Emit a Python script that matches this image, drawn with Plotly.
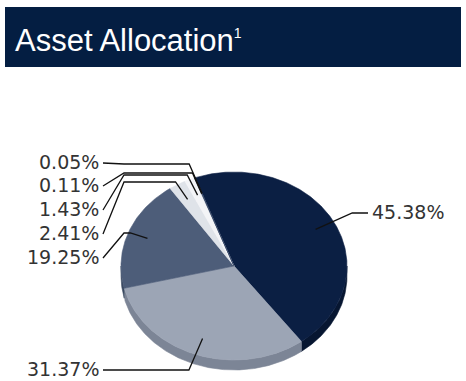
import numpy as np
import plotly.graph_objects as go

# Portfolio asset allocation (percent of total)
values = [45.38, 31.37, 19.25, 2.41, 1.43, 0.11, 0.05]
label_text = [f"{v:.2f}%" for v in values]

# Slice styling: top face and darker side wall
top_colors = ["#0b1f43", "#9ca5b5", "#4d5d79", "#dfe3e9", "#f3f4f7", "#6f7d95", "#2a3b5c"]
side_colors = ["#071631", "#7c8596", "#3a4962", "#b9bfc9", "#c9ced6", "#56637a", "#1d2c48"]

# Label layout: which side, text y, and the y where the leader bends
label_side = ["right", "bottom", "left", "left", "left", "left", "left"]
label_y = [212, 369, 257, 233, 209, 185, 162]
bend_y = [213, 370, 233, 182, 175, 173, 164]

# Tilted pie geometry (pixel space)
CX, CY = 234, 266
RX, RY = 113, 94
DEPTH = 10
START = -20.0
ANCHOR_F = 0.82


def pt(theta, f=1.0):
    t = np.radians(theta)
    return CX + RX * f * np.sin(t), CY - RY * f * np.cos(t)


def arc(a0, a1, n=None):
    n = n or max(4, int(abs(a1 - a0) * 2))
    th = np.linspace(a0, a1, n)
    x, y = pt(th)
    return list(x), list(y)


total = sum(values)
cum = np.concatenate([[0], np.cumsum(values)])
bounds = [(START + 360 * cum[i] / total, START + 360 * cum[i + 1] / total) for i in range(len(values))]

fig = go.Figure()

# Side walls on the front half of the pie
for (a0, a1), col in zip(bounds, side_colors):
    for lo, hi in [(90, 270), (450, 630)]:
        b0, b1 = max(a0, lo), min(a1, hi)
        if b1 > b0:
            xs, ys = arc(b0, b1)
            px = xs + xs[::-1]
            py = ys + [v + DEPTH for v in ys[::-1]]
            fig.add_trace(go.Scatter(x=px + [px[0]], y=py + [py[0]], mode="lines", fill="toself",
                                     fillcolor=col, line=dict(color=col, width=0.6), hoverinfo="skip"))

# Top faces
for (a0, a1), col in zip(bounds, top_colors):
    xs, ys = arc(a0, a1)
    fig.add_trace(go.Scatter(x=[CX] + xs + [CX], y=[CY] + ys + [CY], mode="lines", fill="toself",
                             fillcolor=col, line=dict(color=col, width=0.6), hoverinfo="skip"))

annotations = []
LEFT_EDGE = 103
LEFT_ELBOW = 124
RIGHT_EDGE = 368
for i, ((a0, a1), txt) in enumerate(zip(bounds, label_text)):
    mid = (a0 + a1) / 2
    ax, ay = pt(mid, ANCHOR_F)
    # point on the slice's ray at the bend height
    _, ry1 = pt(mid, 1.0)
    f = (CY - bend_y[i]) / (CY - ry1) if (CY - ry1) != 0 else 1.0
    kx, ky = pt(mid, f)
    side = label_side[i]
    if side == "right":
        lx = [ax, kx, RIGHT_EDGE]
        ly = [ay, ky, bend_y[i]]
        annotations.append(dict(x=RIGHT_EDGE + 2, y=label_y[i], text=txt, xanchor="left"))
    elif side == "bottom":
        lx = [ax, kx, LEFT_EDGE]
        ly = [ay, ky, bend_y[i]]
        annotations.append(dict(x=LEFT_EDGE - 2, y=label_y[i], text=txt, xanchor="right"))
    else:
        lx = [ax, kx, LEFT_ELBOW, LEFT_EDGE]
        ly = [ay, ky, bend_y[i], label_y[i] + 1]
        annotations.append(dict(x=LEFT_EDGE - 2, y=label_y[i], text=txt, xanchor="right"))
    fig.add_trace(go.Scatter(x=lx, y=ly, mode="lines", line=dict(color="#111111", width=1.3),
                             hoverinfo="skip"))

for a in annotations:
    a.update(showarrow=False, yanchor="middle", xref="x", yref="y",
             font=dict(family="DejaVu Sans", size=19, color="#333333"))

# Header band with title
annotations.append(dict(x=13, y=40, xref="x", yref="y",
                        text="Asset Allocation<sup><span style='font-size:14px'>1</span></sup>",
                        showarrow=False, xanchor="left", yanchor="middle",
                        font=dict(family="Liberation Sans, Arial", size=31, color="white")))

fig.update_layout(
    width=466, height=381,
    margin=dict(l=0, r=0, t=0, b=0),
    paper_bgcolor="white", plot_bgcolor="white",
    showlegend=False,
    xaxis=dict(range=[0, 466], visible=False, fixedrange=True),
    yaxis=dict(range=[381, 0], visible=False, fixedrange=True),
    shapes=[dict(type="rect", xref="x", yref="y", x0=5, x1=461, y0=7, y1=67,
                 fillcolor="#041e42", line=dict(width=0), layer="below")],
    annotations=annotations,
)

fig.write_html("out.html")
